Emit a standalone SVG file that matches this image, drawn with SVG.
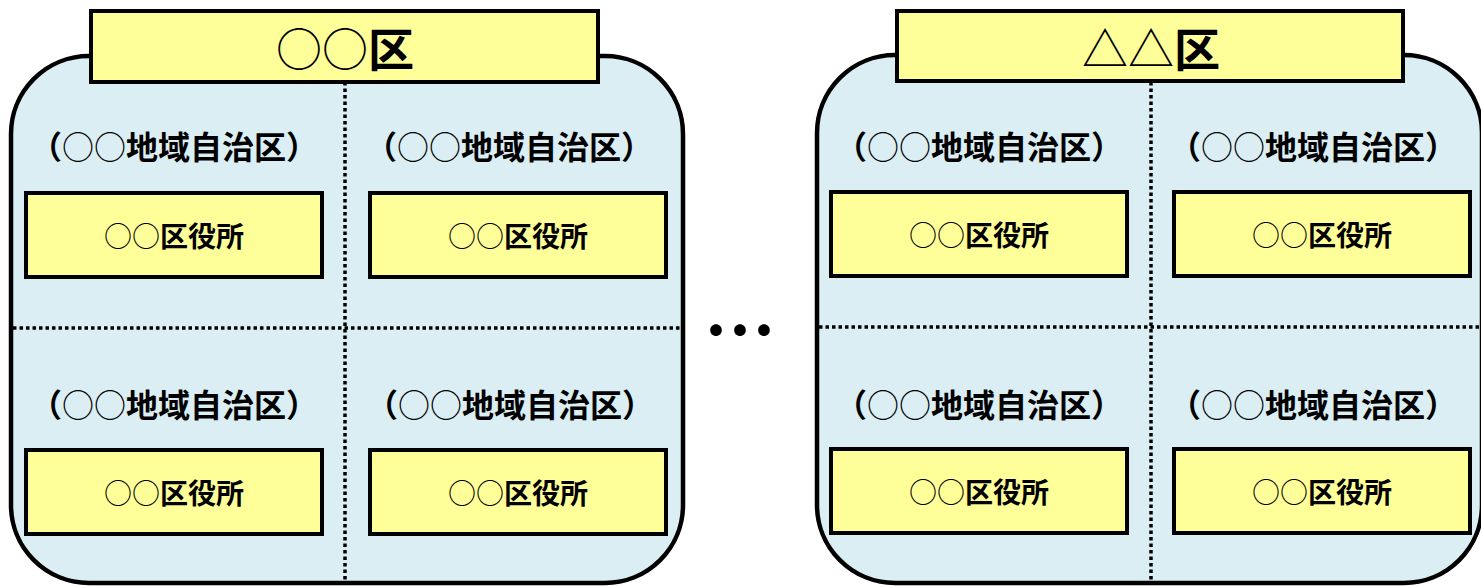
<svg xmlns="http://www.w3.org/2000/svg" width="1481" height="586" viewBox="0 0 1481 586">
<style>
.ward{fill:#DAEEF3;stroke:#000;stroke-width:4.5}
.title{fill:#FFFF99;stroke:#000;stroke-width:4}
.office{fill:#FFFF99;stroke:#000;stroke-width:4}
.dot{stroke:#000;stroke-width:3.5;stroke-dasharray:3.5 3;fill:none}
text{font-family:"Noto Sans CJK JP","Noto Sans CJK SC",sans-serif;font-weight:bold;fill:#000;text-anchor:middle;dominant-baseline:central}
.t{font-size:46px}
.l{font-size:32px}
.o{font-size:28px}
.thin{font-weight:normal}
</style>
<rect width="1481" height="586" fill="#fff"/>
<g id="ward-a">
<rect class="ward" x="11" y="56" width="672" height="527" rx="78" ry="78"/>
</g>
<g id="ward-b">
<rect class="ward" x="817" y="55" width="665" height="528" rx="78" ry="78"/>
</g>
<g id="connectors">
<line class="dot" x1="345" y1="82" x2="345" y2="583"/>
<line class="dot" x1="13" y1="328" x2="681" y2="328"/>
<line class="dot" x1="1151" y1="82" x2="1151" y2="583"/>
<line class="dot" x1="819" y1="327" x2="1481" y2="327"/>
</g>
<g id="title-a">
<rect class="title" x="91" y="11" width="507" height="71"/>
<text class="t" x="345" y="46"><tspan class="thin">○○</tspan>区</text>
</g>
<g id="title-b">
<rect class="title" x="897" y="11" width="506" height="70"/>
<text class="t" x="1151" y="46"><tspan class="thin">△△</tspan>区</text>
</g>
<g id="label-a1"><text class="l" x="174" y="145">（<tspan class="thin">○○</tspan>地域自治区）</text></g>
<g id="label-a2"><text class="l" x="509" y="145">（<tspan class="thin">○○</tspan>地域自治区）</text></g>
<g id="label-a3"><text class="l" x="174" y="403">（<tspan class="thin">○○</tspan>地域自治区）</text></g>
<g id="label-a4"><text class="l" x="510" y="403">（<tspan class="thin">○○</tspan>地域自治区）</text></g>
<g id="label-b1"><text class="l" x="979" y="145">（<tspan class="thin">○○</tspan>地域自治区）</text></g>
<g id="label-b2"><text class="l" x="1313" y="145">（<tspan class="thin">○○</tspan>地域自治区）</text></g>
<g id="label-b3"><text class="l" x="979" y="403">（<tspan class="thin">○○</tspan>地域自治区）</text></g>
<g id="label-b4"><text class="l" x="1313" y="403">（<tspan class="thin">○○</tspan>地域自治区）</text></g>
<g id="office-a1"><rect class="office" x="26" y="193" width="296" height="84"/><text class="o" x="174" y="235"><tspan class="thin">○○</tspan>区役所</text></g>
<g id="office-a2"><rect class="office" x="370" y="193" width="296" height="84"/><text class="o" x="518" y="235"><tspan class="thin">○○</tspan>区役所</text></g>
<g id="office-a3"><rect class="office" x="26" y="450" width="296" height="84"/><text class="o" x="174" y="492"><tspan class="thin">○○</tspan>区役所</text></g>
<g id="office-a4"><rect class="office" x="370" y="450" width="296" height="84"/><text class="o" x="518" y="492"><tspan class="thin">○○</tspan>区役所</text></g>
<g id="office-b1"><rect class="office" x="831" y="192" width="296" height="84"/><text class="o" x="979" y="234"><tspan class="thin">○○</tspan>区役所</text></g>
<g id="office-b2"><rect class="office" x="1174" y="192" width="296" height="84"/><text class="o" x="1322" y="234"><tspan class="thin">○○</tspan>区役所</text></g>
<g id="office-b3"><rect class="office" x="831" y="449" width="296" height="84"/><text class="o" x="979" y="491"><tspan class="thin">○○</tspan>区役所</text></g>
<g id="office-b4"><rect class="office" x="1174" y="449" width="296" height="84"/><text class="o" x="1322" y="491"><tspan class="thin">○○</tspan>区役所</text></g>
<g id="ellipsis"><text x="740" y="325" style="font-size:72px">…</text></g>
</svg>
